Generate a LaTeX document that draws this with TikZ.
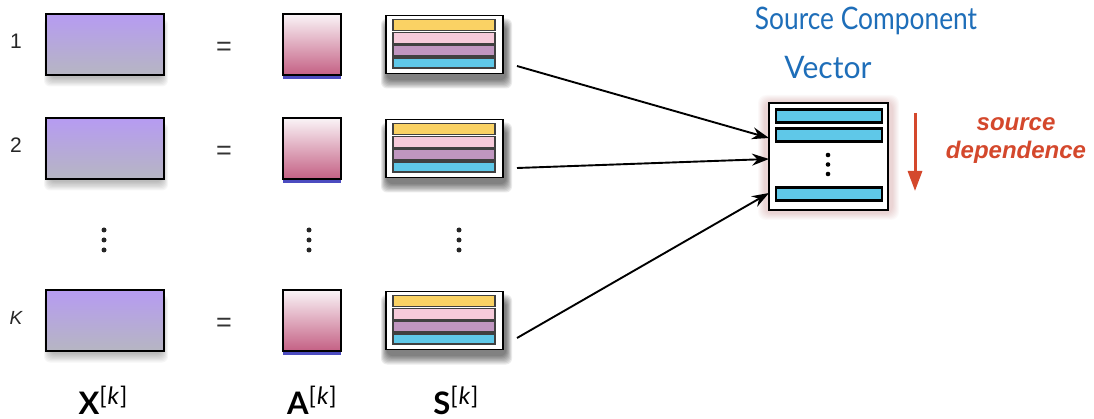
\documentclass[tikz,border=0pt]{standalone}
\usepackage{fontspec}
\setmainfont{Liberation Sans}
\newfontfamily\titlefont{Lato}
\usetikzlibrary{arrows.meta,shadows}
\definecolor{xtop}{RGB}{182,155,242}
\definecolor{xbot}{RGB}{182,182,194}
\definecolor{atop}{RGB}{250,244,247}
\definecolor{abot}{RGB}{196,96,132}
\definecolor{syel}{RGB}{250,210,100}
\definecolor{spink}{RGB}{246,202,218}
\definecolor{spur}{RGB}{192,150,192}
\definecolor{sblue}{RGB}{95,200,232}
\definecolor{titleblue}{RGB}{30,110,185}
\definecolor{depred}{RGB}{212,72,44}
\tikzset{
  xmat/.style={draw=black, line width=2.8pt, minimum width=118pt, minimum height=61pt,
    inner sep=0pt, top color=xtop, bottom color=xbot},
  amat/.style={draw=black, line width=2.8pt, minimum width=58pt, minimum height=61pt,
    inner sep=0pt, top color=atop, bottom color=abot,
    drop shadow={shadow xshift=0pt, shadow yshift=-4pt, opacity=0.7, fill=blue!65!black}},
  smat/.style={draw=black, line width=1.8pt, fill=white, minimum width=117pt, minimum height=58pt, inner sep=0pt},
  stripe/.style={draw=black!75, line width=1.1pt, minimum width=102pt, minimum height=11pt, inner sep=0pt},
  vbar/.style={draw=black, line width=2.2pt, fill=sblue, minimum width=106pt, minimum height=13pt, inner sep=0pt},
  rowlab/.style={font=\fontsize{21}{21}\selectfont, text=black!85},
  eqs/.style={font=\fontsize{27}{27}\selectfont, text=black!80},
  botlab/.style={font=\titlefont\fontsize{31}{31}\selectfont},
  conn/.style={line width=1.9pt, -{Stealth[length=17pt,width=12pt]}},
}
\newcommand{\supbr}{\raisebox{10pt}{\fontsize{24}{24}\selectfont\mdseries[\kern1pt\itshape k\upshape\kern1pt]}}
\begin{document}
\begin{tikzpicture}[x=1pt,y=-1pt]
\useasboundingbox (0,0) rectangle (1094,419);
\fill[white] (0,0) rectangle (1094,419);

% rows
\foreach \r/\yc/\lab in {1/44.5/1, 2/148.5/2, K/320.5/{\itshape\fontsize{19}{19}\selectfont K}}{
  % soft shadows
  \foreach \i in {0,...,7}{
    \fill[black, opacity=0.035, rounded corners=6pt] (44+\i*0.8,\yc-26+\i) rectangle (168-\i*0.8,\yc+42-\i*1.2);
    \fill[black, opacity=0.08, rounded corners=6pt] (381+\i*0.8,\yc-26+\i) rectangle (512-\i*0.8,\yc+44-\i*1.2);
  }
  \node[rowlab] (lab\r) at (16,\yc-3) {\lab};
  \node[xmat] (x\r) at (105,\yc) {};
  \node[eqs] (eq\r) at (224,\yc+4) {=};
  \node[amat] (a\r) at (312,\yc) {};
  \node[smat] (s\r) at (444.5,\yc) {};
  \node[stripe, fill=syel]  (s\r y) at (444,\yc-19.5) {};
  \node[stripe, fill=spink] (s\r p) at (444,\yc-6.5) {};
  \node[stripe, fill=spur]  (s\r m) at (444,\yc+6) {};
  \node[stripe, fill=sblue, minimum height=10pt] (s\r b) at (444,\yc+18.5) {};
}

% vertical dots
\foreach \xx in {104,309,459}{
  \foreach \yy in {230,240,250}{
    \fill[black!85] (\xx,\yy) circle (2.5);
  }
}

% bottom labels
\node[botlab] (xl) at (103,400) {\bfseries X\supbr};
\node[botlab] (al) at (312,400) {\bfseries A\supbr};
\node[botlab] (sl) at (456,400) {\bfseries S\supbr};

% source component vector
\foreach \i in {0,...,6}{
  \fill[red!60!black, opacity=0.025, rounded corners=8pt] (758+\i,95+\i) rectangle (899-\i,220-\i);
}
\node[draw=black, line width=2.8pt, fill=white, minimum width=119pt, minimum height=107pt, inner sep=0pt] (vec) at (828.5,156.5) {};
\node[vbar] (v1) at (829,116) {};
\node[vbar] (v2) at (829,135) {};
\node[vbar] (v3) at (829,194) {};
\foreach \yy in {155,164.5,174}{ \fill[black] (828,\yy) circle (2.3); }

\node[font=\titlefont\fontsize{31}{31}\selectfont, text=titleblue] (t1) at (866,21) {\scalebox{0.85}[1]{Source Component}};
\node[font=\titlefont\fontsize{31}{31}\selectfont, text=titleblue] (t2) at (828,68) {\scalebox{0.97}[1]{Vector}};

\node[font=\bfseries\itshape\fontsize{24}{28}\selectfont, text=depred, align=center] (dep) at (1016,141) {source\\dependence};
\coordinate (dtop) at (915,113);
\coordinate (dbot) at (915,191);
\draw[depred, line width=3pt, -{Triangle[length=20pt,width=14pt]}] (dtop) -- (dbot);

% connectors
\coordinate (o1) at (517,66);
\coordinate (o2) at (517,168);
\coordinate (oK) at (517,338);
\coordinate (i1) at (769,138);
\coordinate (i2) at (769,159);
\coordinate (iK) at (769,193);
\draw[conn] (o1) -- (i1);
\draw[conn] (o2) -- (i2);
\draw[conn] (oK) -- (iK);
\end{tikzpicture}
\end{document}
